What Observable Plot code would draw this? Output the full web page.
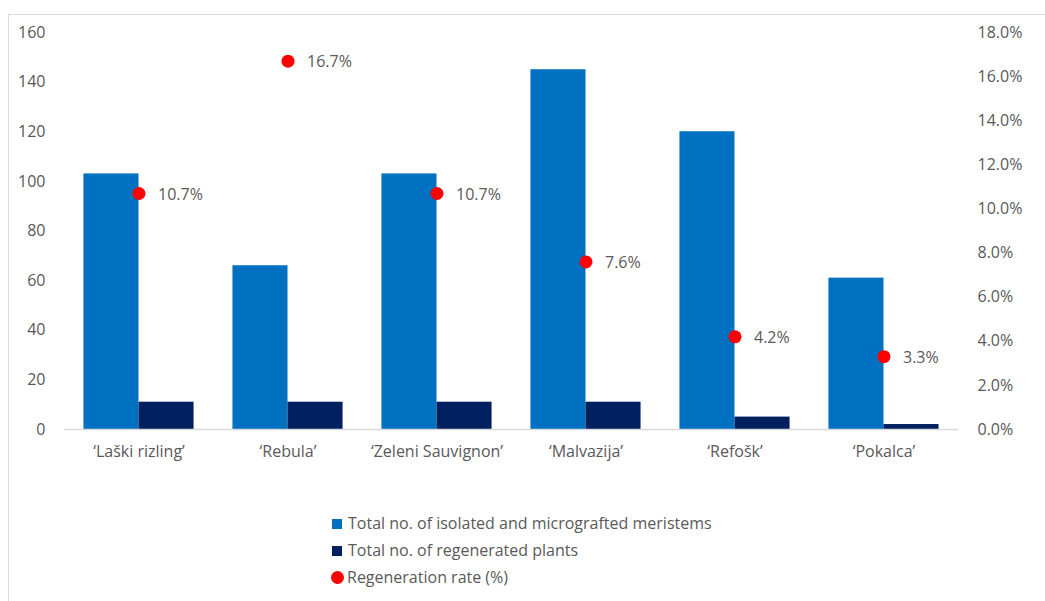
<!DOCTYPE html>
<html>
<head>
<meta charset="utf-8">
<script src="https://cdn.jsdelivr.net/npm/d3@7"></script>
<script src="https://cdn.jsdelivr.net/npm/@observablehq/plot@0.6"></script>
<style>
  html, body { margin: 0; padding: 0; background: #fff; overflow: hidden; }
  body { width: 1045px; height: 601px; position: relative; font-family: "Open Sans", sans-serif; color: #595959; }
  #frame { position: absolute; left: 8px; top: 14px; width: 1200px; height: 800px; border: 1px solid #d9d9d9; box-sizing: border-box; }
  #chart { position: absolute; left: 0; top: 0; }
  #legend { position: absolute; left: 331px; top: 510px; font-size: 16px; line-height: 27px; color: #595959; }
  .item { display: flex; align-items: center; height: 27px; }
  .sw { width: 10px; height: 10px; margin-right: 6px; margin-left: 1px; }
  .dotsw { width: 13px; height: 13px; border-radius: 50%; background: #ff0000; margin-right: 3px; }
</style>
</head>
<body>
<div id="frame"></div>
<div id="chart"></div>
<div id="legend"></div>
<script>
const categories = ["‘Laški rizling’", "‘Rebula’", "‘Zeleni Sauvignon’", "‘Malvazija’", "‘Refošk’", "‘Pokalca’"];
const meristems = [103, 66, 103, 145, 120, 61];
const regenerated = [11, 11, 11, 11, 5, 2];
const rate = [10.7, 16.7, 10.7, 7.6, 4.2, 3.3];
const leftTicks = [0, 20, 40, 60, 80, 100, 120, 140, 160];
const rightTicks = [0, 2, 4, 6, 8, 10, 12, 14, 16, 18];
const seriesNames = ["Total no. of isolated and micrografted meristems", "Total no. of regenerated plants", "Regeneration rate (%)"];
const colors = ["#0070c0", "#002060", "#ff0000"];

const leftMax = 160, rightMax = 18;
const toLeft = v => v * leftMax / rightMax;

const bars = [];
categories.forEach((c, i) => {
  bars.push({cat: c, series: seriesNames[0], value: meristems[i]});
  bars.push({cat: c, series: seriesNames[1], value: regenerated[i]});
});
const points = categories.map((c, i) => ({cat: c, rate: rate[i]}));

const chart = Plot.plot({
  width: 1045,
  height: 470,
  marginLeft: 64,
  marginRight: 87,
  marginTop: 32,
  marginBottom: 41,
  style: {fontFamily: "Open Sans", fontSize: "16px", color: "#595959", background: "transparent"},
  fx: {domain: categories, padding: 0, round: false},
  x: {domain: seriesNames.slice(0, 2), paddingInner: 0, paddingOuter: 0.353, round: false, axis: null},
  y: {domain: [0, leftMax], axis: null},
  color: {domain: seriesNames.slice(0, 2), range: colors.slice(0, 2)},
  marks: [
    Plot.barY(bars, {fx: "cat", x: "series", y: "value", fill: "series"}),
    Plot.ruleY([0], {stroke: "#d9d9d9", strokeWidth: 1.5}),
    Plot.dot(points, {fx: "cat", y: d => toLeft(d.rate), r: 6.5, fill: colors[2], stroke: "none"}),
    Plot.text(points, {fx: "cat", y: d => toLeft(d.rate), text: d => d.rate.toFixed(1) + "%", dx: 19, dy: 1, textAnchor: "start", fill: "#595959", fontSize: 16}),
    Plot.axisY({anchor: "left", ticks: leftTicks, tickSize: 0, tickPadding: 19, label: null}),
    Plot.axisY({anchor: "right", ticks: rightTicks.map(toLeft), tickFormat: v => (v * rightMax / leftMax).toFixed(1) + "%", tickSize: 0, tickPadding: 19, label: null}),
    Plot.axisFx({anchor: "bottom", tickSize: 0, tickPadding: 16, label: null})
  ]
});
document.getElementById("chart").appendChild(chart);

const legend = document.getElementById("legend");
seriesNames.forEach((name, i) => {
  const item = document.createElement("div");
  item.className = "item";
  const sw = document.createElement("span");
  if (i < 2) { sw.className = "sw"; sw.style.background = colors[i]; }
  else { sw.className = "dotsw"; }
  item.appendChild(sw);
  const t = document.createElement("span");
  t.textContent = name;
  item.appendChild(t);
  legend.appendChild(item);
});
</script>
</body>
</html>
